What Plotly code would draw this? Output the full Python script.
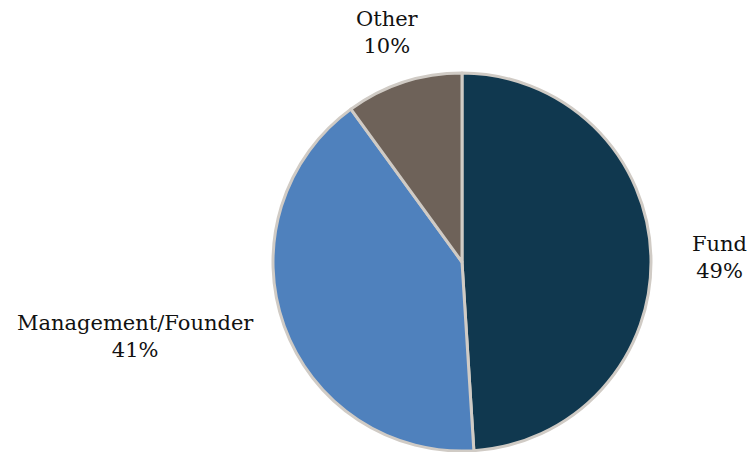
import plotly.graph_objects as go

labels = ["Fund", "Management/Founder", "Other"]
values = [49, 41, 10]
colors = ["#10384F", "#4F81BD", "#6E6259"]

# label anchor positions (pixels)
W, H = 754, 452
label_pos = {"Fund": (719, 257), "Management/Founder": (135, 336), "Other": (387, 33)}

fig = go.Figure(go.Pie(
    labels=labels, values=values, sort=False, direction="clockwise", rotation=0,
    marker=dict(colors=colors, line=dict(color="#D0CBC5", width=3)),
    textinfo="none", hoverinfo="label+percent", showlegend=False,
    domain=dict(x=[272 / W, 652 / W], y=[1 - 451 / H, 1 - 73 / H]),
))

total = sum(values)
for lab, val in zip(labels, values):
    x, y = label_pos[lab]
    fig.add_annotation(
        x=x / W, y=1 - y / H, xref="paper", yref="paper", showarrow=False,
        text=f"{lab}<br>{round(100 * val / total)}%", align="center",
        font=dict(family="Georgia, 'DejaVu Serif', serif", size=21, color="#111111"),
        xanchor="center", yanchor="middle",
    )

fig.update_layout(
    width=W, height=H, margin=dict(l=0, r=0, t=0, b=0),
    paper_bgcolor="white", plot_bgcolor="white",
)
fig.write_html("out.html")
